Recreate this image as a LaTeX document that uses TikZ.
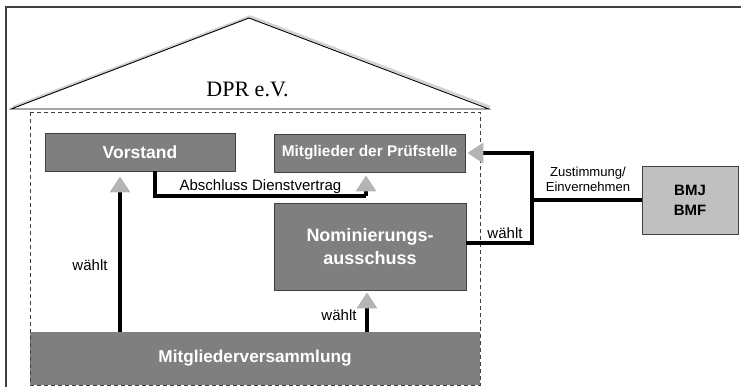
\documentclass[tikz,border=0pt]{standalone}
\usepackage{fontspec}
\setmainfont{Liberation Sans}
\newfontfamily\seriffont{Liberation Serif}
\usetikzlibrary{arrows.meta}
\definecolor{boxgray}{HTML}{7F7F7F}
\definecolor{lightbox}{HTML}{C0C0C0}
\definecolor{arrgray}{HTML}{B4B4B4}
\definecolor{framegray}{HTML}{404040}
\begin{document}
\begin{tikzpicture}[x=1pt,y=-1pt,
  darkbox/.style={rectangle,draw=framegray,line width=0.8pt,fill=boxgray,text=white,font=\bfseries,inner sep=0pt,align=center},
  conn/.style={line width=3.5pt,black},
  arr/.style={conn,-{Triangle[width=20pt,length=16pt,color=arrgray,fill=arrgray]}},
  lbl/.style={inner sep=0pt,font=\fontsize{15}{17}\selectfont}]
\useasboundingbox (0,0) rectangle (741,387);
% outer frame (top and left)
\draw[framegray,line width=1.5pt] (741,7) -- (6,7) -- (6,387);
% roof
\draw[gray!35,line width=2.5pt,line join=round] (13,107) -- (250,16.5) -- (490,107);
\draw[fill=white,line width=0.9pt,line join=miter] (11,109) -- (249,18) -- (489,109) -- cycle;
\node[font=\seriffont\fontsize{22}{24}\selectfont] (dpr) at (247.5,89) {DPR e.V.};
% Mitgliederversammlung
\node[darkbox,draw=none,minimum width=450pt,minimum height=53pt,font=\bfseries\fontsize{17.2}{19}\selectfont] (mv) at (255,358.5) {Mitgliederversammlung};
% dashed frame
\draw[framegray,line width=0.8pt,dash pattern=on 4pt off 3pt] (30,112) rectangle (480,385);
% boxes
\node[darkbox,minimum width=190pt,minimum height=38pt,font=\bfseries\fontsize{17.5}{19}\selectfont] (vor) at (140,152) {Vorstand};
\node[darkbox,minimum width=191pt,minimum height=38pt,font=\bfseries\fontsize{15.4}{17}\selectfont] (pruef) at (369.5,153) {Mitglieder der Prüfstelle};
\node[darkbox,minimum width=192pt,minimum height=87pt,font=\bfseries\fontsize{18}{23}\selectfont] (nom) at (370,246.5) {Nominierungs-\\ausschuss};
\node[rectangle,draw=framegray,line width=0.8pt,fill=lightbox,minimum width=96pt,minimum height=68pt,inner sep=0pt,align=center,font=\bfseries\fontsize{15}{20}\selectfont] (bmj) at (690,200) {BMJ\\BMF};
% connectors
\draw[arr,shorten >=5pt] (mv.north -| 120,0) -- (vor.south -| 120,0);
\draw[arr,shorten >=2pt] (mv.north -| 367,0) -- (nom.south -| 367,0);
\coordinate (c1) at (366,196);
\draw[conn,line cap=butt] ([xshift=15pt]vor.south) |- (c1);
\draw[arr,shorten >=3pt] (c1) -- (c1 |- pruef.south);
\coordinate (j) at (532,200);
\draw[conn] (bmj.west) -- (j);
\draw[conn] ([yshift=3.5pt]nom.east) -| (j);
\draw[arr,shorten >=2pt] (j) |- (pruef.east);
% labels
\node[lbl] (l1) at (260.5,186.5) {Abschluss Dienstvertrag};
\node[lbl] (l2) at (90,265) {wählt};
\node[lbl] (l3) at (339,315) {wählt};
\node[lbl] (l4) at (505,233) {wählt};
\node[inner sep=0pt,align=center,font=\fontsize{13.1}{15}\selectfont] (l5) at (588,179.5) {Zustimmung/\\Einvernehmen};
\end{tikzpicture}
\end{document}
